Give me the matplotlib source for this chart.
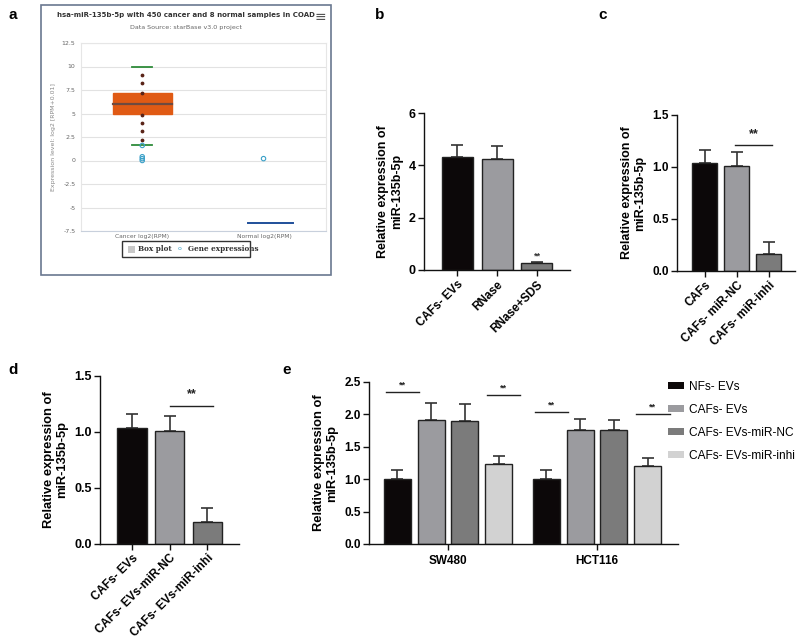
import matplotlib
matplotlib.use("Agg")
import matplotlib.pyplot as plt
from matplotlib.patches import Rectangle
import numpy as np

# ---------------- data ----------------
# panel a (starBase box plot)
a_cats = ["Cancer log2(RPM)", "Normal log2(RPM)"]
a_box = dict(q1=5.0, med=6.0, q3=7.2, lo=1.7, hi=10.0)
a_outlier_dots = [9.1, 8.2, 7.2, 4.8, 4.0, 3.1, 2.2]
a_cancer_points = [0.4, 0.2, 0.0, 1.6]
a_normal_points = [0.2]
a_normal_line = -6.6
a_yticks = [-7.5, -5, -2.5, 0, 2.5, 5, 7.5, 10, 12.5]

# panel b
b_labels = ["CAFs- EVs", "RNase", "RNase+SDS"]
b_vals = [4.33, 4.25, 0.25]
b_err = [0.44, 0.47, 0.05]

# panel c
c_labels = ["CAFs", "CAFs- miR-NC", "CAFs- miR-inhi"]
c_vals = [1.04, 1.01, 0.16]
c_err = [0.12, 0.13, 0.12]

# panel d
d_labels = ["CAFs- EVs", "CAFs- EVs-miR-NC", "CAFs- EVs-miR-inhi"]
d_vals = [1.04, 1.01, 0.20]
d_err = [0.12, 0.13, 0.12]

# panel e
e_groups = ["SW480", "HCT116"]
e_series = ["NFs- EVs", "CAFs- EVs", "CAFs- EVs-miR-NC", "CAFs- EVs-miR-inhi"]
e_vals = [[1.00, 1.91, 1.90, 1.24],
          [1.00, 1.76, 1.76, 1.20]]
e_err = [[0.14, 0.27, 0.26, 0.12],
         [0.14, 0.17, 0.16, 0.12]]

bar_colors = ["#0c0809", "#9b9b9f", "#7b7b7b", "#d2d2d2"]

W, H = 800, 641
fig = plt.figure(figsize=(8, 6.41), dpi=100)
FONT = "Liberation Sans"


def ax_px(left, right, top, bottom):
    return fig.add_axes([left / W, 1 - bottom / H, (right - left) / W, (bottom - top) / H])


def prism(ax, ylim, yticks, fmt, tick_fs):
    ax.set_ylim(*ylim)
    ax.spines["top"].set_visible(False)
    ax.spines["right"].set_visible(False)
    for s in ("left", "bottom"):
        ax.spines[s].set_linewidth(1.0)
        ax.spines[s].set_color("#111111")
    ax.set_yticks(yticks)
    ax.set_yticklabels([fmt.format(t) for t in yticks], fontsize=tick_fs,
                       fontweight="bold", family=FONT)
    ax.tick_params(axis="both", length=4, width=1.0, color="#111111", pad=2)


def bars(ax, vals, err, colors, width, xs=None):
    xs = np.arange(len(vals)) if xs is None else xs
    ax.bar(xs, vals, width=width, color=colors, edgecolor="#222222", linewidth=1.0, zorder=2)
    ax.errorbar(xs, vals, yerr=[np.zeros(len(vals)), err], fmt="none", ecolor="#333333",
                elinewidth=1.2, capsize=4.5, capthick=1.2, zorder=1)
    return xs


def sig(ax, x1, x2, y, ytext, fs):
    ax.plot([x1, x2], [y, y], color="#222222", lw=1.0)
    ax.text((x1 + x2) / 2, ytext, "**", ha="center", va="center", fontsize=fs,
            fontweight="bold", family=FONT, color="#222222")


ylab = "Relative expression of\nmiR-135b-5p"

# ---------------- panel a ----------------
fig.patches.append(Rectangle((41 / W, 1 - 275 / H), 290 / W, 270 / H, transform=fig.transFigure,
                             fill=False, edgecolor="#6a7890", linewidth=1.2))
axa = ax_px(81, 326, 43, 231)
axa.set_xlim(-0.5, 1.5)
axa.set_ylim(-7.5, 12.5)
axa.set_yticks(a_yticks)
axa.set_yticklabels([("%g" % t) for t in a_yticks], fontsize=4.5, color="#666666", family="DejaVu Sans")
axa.grid(axis="y", color="#e2e2e2", lw=0.8)
axa.set_axisbelow(True)
for s in ("top", "right"):
    axa.spines[s].set_color("#e6e6e6")
axa.spines["left"].set_color("#e6e6e6")
axa.spines["bottom"].set_color("#c8d0dc")
axa.tick_params(axis="y", length=0, pad=4)
axa.set_xticks([0, 1])
axa.set_xticklabels(a_cats, fontsize=4.3, color="#666666", family="DejaVu Sans")
axa.tick_params(axis="x", length=0, pad=2)
axa.set_ylabel("Expression level: log2 [RPM+0.01]", fontsize=4.5, color="#888888",
               family="DejaVu Sans", labelpad=4)
# box
bw = 0.48
axa.add_patch(Rectangle((0 - bw / 2, a_box["q1"]), bw, a_box["q3"] - a_box["q1"],
                        facecolor="#e05a14", edgecolor="#e05a14", zorder=3))
axa.plot([-bw / 2, bw / 2], [a_box["med"]] * 2, color="#6e4a40", lw=1.6, zorder=4)
axa.plot([-0.08, 0.08], [a_box["hi"]] * 2, color="#2e8b3a", lw=1.3, zorder=4)
axa.plot([-0.08, 0.08], [a_box["lo"]] * 2, color="#2e8b3a", lw=1.3, zorder=4)
axa.scatter([0] * len(a_outlier_dots), a_outlier_dots, s=3, color="#5a2418", zorder=5)
axa.scatter([0] * len(a_cancer_points), a_cancer_points, s=10, facecolors="none",
            edgecolors="#3aa0c8", linewidths=0.8, zorder=5)
axa.scatter([0.99] * len(a_normal_points), a_normal_points, s=10, facecolors="none",
            edgecolors="#3aa0c8", linewidths=0.8, zorder=5)
axa.plot([0.86, 1.23], [a_normal_line] * 2, color="#1f4f9a", lw=1.4, zorder=4)
fig.text(186 / W, 1 - 15 / H, "hsa-miR-135b-5p with 450 cancer and 8 normal samples in COAD",
         ha="center", va="center", fontsize=5.0, fontweight="bold", color="#333333",
         family="DejaVu Sans")
fig.text(186 / W, 1 - 28 / H, "Data Source: starBase v3.0 project", ha="center", va="center",
         fontsize=4.6, color="#666666", family="DejaVu Sans")
fig.text(320 / W, 1 - 17 / H, "\u2261", ha="center", va="center", fontsize=10, color="#555555",
         family="DejaVu Sans")
# legend of a
fig.patches.append(Rectangle((122 / W, 1 - 257 / H), 128 / W, 16 / H, transform=fig.transFigure,
                             fill=False, edgecolor="#333333", linewidth=1.0))
fig.patches.append(Rectangle((128 / W, 1 - 252.5 / H), 7 / W, 7 / H, transform=fig.transFigure,
                             facecolor="#c8c8c8", edgecolor="none"))
fig.text(138 / W, 1 - 249 / H, "Box plot", ha="left", va="center", fontsize=5.2,
         fontweight="bold", color="#333333", family="DejaVu Serif")
fig.text(180 / W, 1 - 249 / H, "o", ha="center", va="center", fontsize=4.5, color="#3aa0c8",
         family="DejaVu Sans")
fig.text(188 / W, 1 - 249 / H, "Gene expressions", ha="left", va="center", fontsize=5.2,
         fontweight="bold", color="#333333", family="DejaVu Serif")

# ---------------- panel b ----------------
axb = ax_px(424, 570, 113, 270)
bars(axb, b_vals, b_err, bar_colors[:3], 0.78)
axb.set_xlim(-0.84, 2.83)
prism(axb, (0, 6), [0, 2, 4, 6], "{:g}", 9)
axb.set_xticks(range(3))
axb.set_xticklabels(b_labels, rotation=45, ha="right", rotation_mode="anchor",
                    fontsize=8.5, fontweight="bold", family=FONT)
axb.set_ylabel(ylab, fontsize=9, fontweight="bold", family=FONT, labelpad=4)
axb.text(2, b_vals[2] + b_err[2] + 0.25, "**", ha="center", va="center", fontsize=6.5,
         fontweight="bold", family=FONT, color="#333333")

# ---------------- panel c ----------------
axc = ax_px(677, 795, 115, 271)
bars(axc, c_vals, c_err, bar_colors[:3], 0.78)
axc.set_xlim(-0.86, 2.81)
prism(axc, (0, 1.5), [0, 0.5, 1.0, 1.5], "{:.1f}", 8.5)
axc.set_xticks(range(3))
axc.set_xticklabels(c_labels, rotation=45, ha="right", rotation_mode="anchor",
                    fontsize=8.5, fontweight="bold", family=FONT)
axc.set_ylabel(ylab, fontsize=9, fontweight="bold", family=FONT, labelpad=4)
sig(axc, 0.95, 2.1, 1.21, 1.32, 9)

# ---------------- panel d ----------------
axd = ax_px(100, 239, 376, 544)
bars(axd, d_vals, d_err, bar_colors[:3], 0.78)
axd.set_xlim(-0.85, 2.84)
prism(axd, (0, 1.5), [0, 0.5, 1.0, 1.5], "{:.1f}", 9)
axd.set_xticks(range(3))
axd.set_xticklabels(d_labels, rotation=45, ha="right", rotation_mode="anchor",
                    fontsize=8.5, fontweight="bold", family=FONT)
axd.set_ylabel(ylab, fontsize=9.3, fontweight="bold", family=FONT, labelpad=4)
sig(axd, 1.0, 2.15, 1.23, 1.34, 9)

# ---------------- panel e ----------------
axe = ax_px(369, 678, 382, 544)
gap = 4.42
for g in range(len(e_groups)):
    xs = g * gap + np.arange(4) - 1.5
    bars(axe, e_vals[g], e_err[g], bar_colors, 0.8, xs=xs)
axe.set_xlim(-2.34, gap + 2.4)
prism(axe, (0, 2.5), [0, 0.5, 1.0, 1.5, 2.0, 2.5], "{:.1f}", 8.5)
axe.set_xticks([0, gap])
axe.set_xticklabels(e_groups, fontsize=8.5, fontweight="bold", family=FONT)
axe.tick_params(axis="x", pad=4)
axe.set_ylabel(ylab, fontsize=9.3, fontweight="bold", family=FONT, labelpad=4)
sig_e = [(0, -1.85, -0.85, 2.34, 2.45), (0, 1.15, 2.15, 2.30, 2.41),
         (1, -1.85, -0.85, 2.03, 2.14), (1, 1.15, 2.15, 2.01, 2.12)]
for g, x1, x2, y, yt in sig_e:
    sig(axe, g * gap + x1, g * gap + x2, y, yt, 6.5)
handles = [Rectangle((0, 0), 1, 1, facecolor=c, edgecolor="none") for c in bar_colors]
fig.legend(handles, e_series, loc="upper left", bbox_to_anchor=(664 / W, 1 - 377 / H),
           frameon=False, handlelength=1.35, handleheight=0.5,
           labelspacing=0.92, handletextpad=0.45, borderaxespad=0, borderpad=0.3,
           prop={"family": FONT, "size": 8.6})

# panel letters
for lab, x, y in [("a", 13, 15), ("b", 380, 15), ("c", 603, 15), ("d", 13, 370), ("e", 287, 370)]:
    fig.text(x / W, 1 - y / H, lab, ha="center", va="center", fontsize=11, fontweight="bold",
             family=FONT)

fig.savefig("out.png", dpi=100)
